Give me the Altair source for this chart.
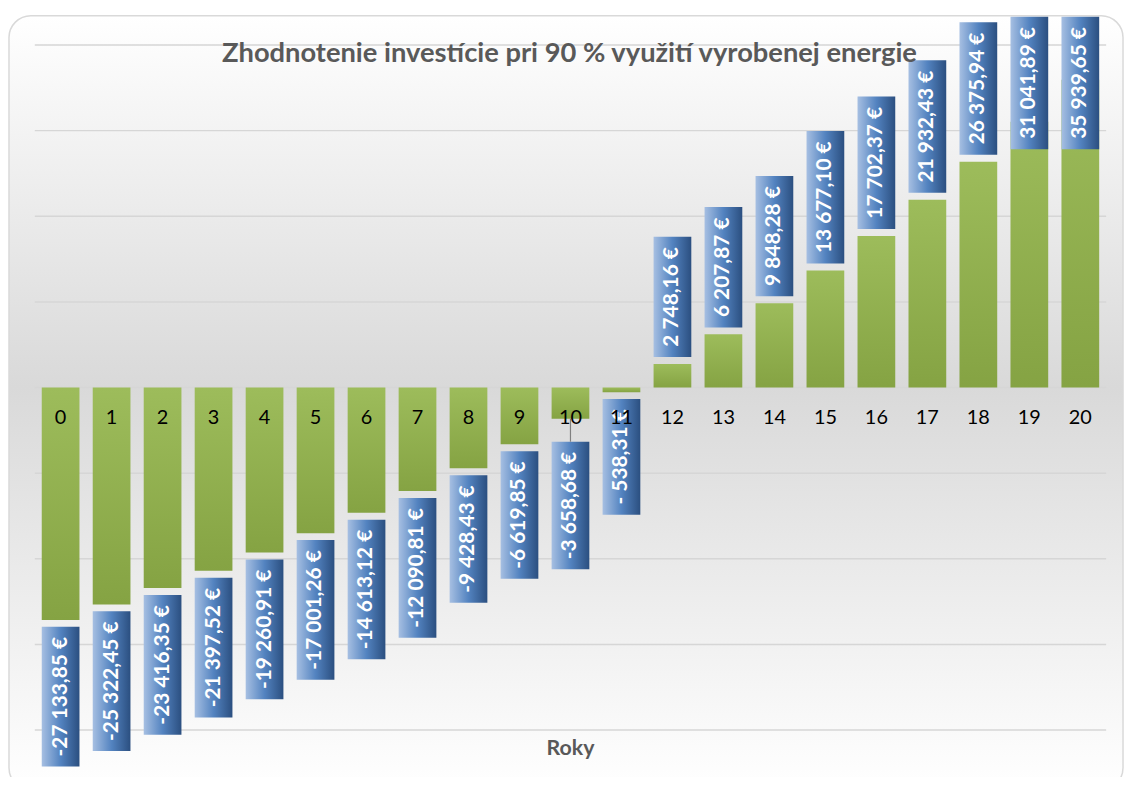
import altair as alt
import pandas as pd

# ---- data ----
years = list(range(21))
values = [-27133.85, -25322.45, -23416.35, -21397.52, -19260.91, -17001.26,
          -14613.12, -12090.81, -9428.43, -6619.85, -3658.68, -538.31,
          2748.16, 6207.87, 9848.28, 13677.10, 17702.37, 21932.43,
          26375.94, 31041.89, 35939.65]
labels = ["-27 133,85 €", "-25 322,45 €", "-23 416,35 €", "-21 397,52 €",
          "-19 260,91 €", "-17 001,26 €", "-14 613,12 €", "-12 090,81 €",
          "-9 428,43 €", "-6 619,85 €", "-3 658,68 €", "- 538,31 €",
          "2 748,16 €", "6 207,87 €", "9 848,28 €", "13 677,10 €",
          "17 702,37 €", "21 932,43 €", "26 375,94 €", "31 041,89 €",
          "35 939,65 €"]
grid_values = [-40000, -30000, -20000, -10000, 0, 10000, 20000, 30000, 40000]
title_text = "Zhodnotenie investície pri 90 % využití vyrobenej energie"
x_title = "Roky"

# ---- layout / style ----
W, H = 1079, 690
YDOM = [-40000, 40000]
PX = (YDOM[1] - YDOM[0]) / H          # data units per pixel
TOP_LIMIT = YDOM[1] + 28.5 * PX       # top edge of the chart frame
FONT = "Lato"

# approximate glyph advance widths (em) used to size label boxes
_w = {"-": 0.306, " ": 0.226, ",": 0.258, "€": 0.507}
def box_len(s):
    return sum(_w.get(c, 0.507) for c in s) * 24 + 19

gap_override = {10: 23}   # label pushed further away (with leader line)

rows = []
for yr, v, lab in zip(years, values, labels):
    L = box_len(lab) * PX
    gap = gap_override.get(yr, 7) * PX
    if v >= 0:
        lo = v + gap
        hi = lo + L
        if hi > TOP_LIMIT:
            hi = TOP_LIMIT
            lo = hi - L
        near = lo
    else:
        hi = v - gap
        lo = hi - L
        near = hi
    rows.append(dict(year=yr, value=v, label=lab, lo=lo, hi=hi,
                     mid=(lo + hi) / 2, near=near, zero=0))
df = pd.DataFrame(rows)

xs = alt.Scale(paddingInner=0.26, paddingOuter=0.136)
ys = alt.Scale(domain=YDOM, nice=False, zero=False)
X = alt.X("year:O", scale=xs, axis=None)

def Y(field):
    return alt.Y(field, type="quantitative", scale=ys, axis=None)

bg = alt.Chart(pd.DataFrame({"a": [0]})).mark_rect(
    cornerRadius=22, stroke="#d9d9d9", strokeWidth=1.5,
    fill=alt.Gradient(gradient="linear", x1=0, x2=0, y1=0, y2=1, stops=[
        alt.GradientStop(color="#ffffff", offset=0),
        alt.GradientStop(color="#d9d9d9", offset=0.48),
        alt.GradientStop(color="#ffffff", offset=1)])
).encode(x=alt.value(-26), x2=alt.value(W + 17),
         y=alt.value(-29.5), y2=alt.value(H + 60))

grid = alt.Chart(pd.DataFrame({"g": grid_values})).mark_rule(
    color="#d6d6d6", strokeWidth=1.5
).encode(y=Y("g"), x=alt.value(0), x2=alt.value(W))

base = alt.Chart(df)

bars = base.mark_bar(
    color=alt.Gradient(gradient="linear", x1=0, x2=0, y1=0, y2=1, stops=[
        alt.GradientStop(color="#9dbc5b", offset=0),
        alt.GradientStop(color="#85a343", offset=1)])
).encode(x=X, y=Y("value"), y2=alt.Y2("zero"))

boxes = base.mark_rect(
    color=alt.Gradient(gradient="linear", x1=0, x2=1, y1=0, y2=0, stops=[
        alt.GradientStop(color="#a6bfe2", offset=0),
        alt.GradientStop(color="#5383c0", offset=0.5),
        alt.GradientStop(color="#2b4f80", offset=1)])
).encode(x=X, y=Y("lo"), y2=alt.Y2("hi"))

box_text = base.mark_text(
    angle=270, align="center", baseline="middle", font=FONT,
    fontWeight="bold", fontSize=21, color="white"
).encode(x=X, y=Y("mid"), text="label:N")

leader = base.transform_filter(alt.datum.year == 10).mark_rule(
    color="#808080", strokeWidth=1.2
).encode(x=X, y=Y("value"), y2=alt.Y2("near"))

cat = base.mark_text(
    font=FONT, fontSize=20, color="black", baseline="middle", dy=31
).encode(x=X, y=Y("zero"), text="year:N")

title = alt.Chart(pd.DataFrame({"t": [title_text]})).mark_text(
    font=FONT, fontWeight="bold", fontSize=27.5, color="#595959",
    baseline="middle", align="center"
).encode(x=alt.value(W / 2 - 1), y=alt.value(9.5), text="t:N")

xt = alt.Chart(pd.DataFrame({"t": [x_title]})).mark_text(
    font=FONT, fontWeight="bold", fontSize=21.5, color="#595959",
    baseline="middle", align="center"
).encode(x=alt.value(W / 2), y=alt.value(H + 19.5), text="t:N")

chart = alt.layer(bg, grid, bars, boxes, box_text, leader, cat, title, xt).properties(
    width=W, height=H,
    autosize=alt.AutoSizeParams(type="none"),
    padding={"left": 27, "top": 34.5, "right": 18, "bottom": 44},
    background="white",
).configure_view(stroke=None)

chart.save("out.html", embed_options={"renderer": "svg", "actions": False})
